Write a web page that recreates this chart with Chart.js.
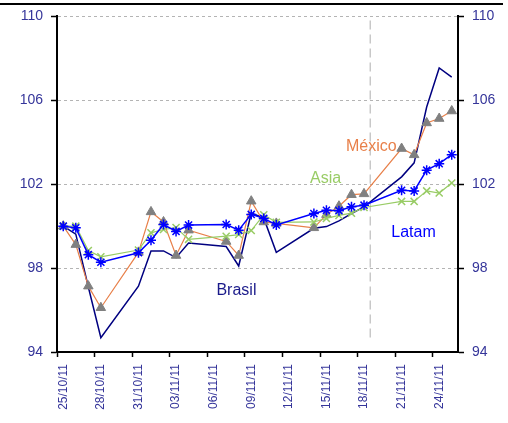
<!DOCTYPE html>
<html>
<head>
<meta charset="utf-8">
<script src="https://cdn.jsdelivr.net/npm/chart.js@4/dist/chart.umd.min.js"></script>
<style>
  html, body { margin: 0; padding: 0; background: #ffffff; }
  #wrap { width: 508px; height: 423px; }
</style>
</head>
<body>
<div id="wrap"><canvas id="c" width="508" height="423"></canvas></div>
<script>
// Trading days (dd/mm/yyyy)
const dates = [
  '25/10/2011', '26/10/2011', '27/10/2011', '28/10/2011',
  '31/10/2011', '01/11/2011', '02/11/2011', '03/11/2011', '04/11/2011',
  '07/11/2011', '08/11/2011', '09/11/2011', '10/11/2011', '11/11/2011',
  '14/11/2011', '15/11/2011', '16/11/2011', '17/11/2011', '18/11/2011',
  '21/11/2011', '22/11/2011', '23/11/2011', '24/11/2011', '25/11/2011'
];

// Index values (base 100 = 25/10/11)
const latam = [100.0, 99.92, 98.64, 98.28, 98.73, 99.33, 100.08, 99.75, 100.05,
  100.08, 99.81, 100.56, 100.37, 100.06, 100.6, 100.76, 100.74, 100.92, 101.0,
  101.71, 101.68, 102.67, 102.98, 103.41];
const asia = [100.0, 100.0, 98.84, 98.54, 98.86, 99.68, 99.84, 99.93, 99.37,
  99.52, 99.6, 99.79, 100.54, 100.18, 100.2, 100.37, 100.51, 100.62, 100.89,
  101.18, 101.18, 101.68, 101.58, 102.06];
const mexico = [100.0, 99.12, 97.14, 96.11, 98.75, 100.68, 100.2, 98.6, 99.81,
  99.27, 98.6, 101.19, 100.2, 100.13, 99.92, 100.55, 100.95, 101.5, 101.54,
  103.7, 103.4, 104.92, 105.13, 105.49];
const brasil = [100.0, 99.62, 97.1, 94.68, 97.14, 98.82, 98.82, 98.5, 99.2,
  99.03, 98.1, 100.62, 100.38, 98.75, 99.9, 99.98, 100.25, 100.6, 100.92,
  102.35, 103.02, 105.68, 107.54, 107.11];

// Axis tick labels (every third calendar day)
const tickLabels = ['25/10/11', '28/10/11', '31/10/11', '03/11/11', '06/11/11',
  '09/11/11', '12/11/11', '15/11/11', '18/11/11', '21/11/11', '24/11/11'];
const yTicks = [94, 98, 102, 106, 110];

// Calendar-day position of each trading day, centred within its day slot
const start = Date.UTC(2011, 9, 25);
function dayPos(s) {
  const [d, m, y] = s.split('/').map(Number);
  return (Date.UTC(y, m - 1, d) - start) / 86400000 + 0.5;
}
const xs = dates.map(dayPos);
const toPoints = vals => vals.map((v, i) => ({ x: xs[i], y: v }));

const axisText = '#35359a';
const font = 'Liberation Sans, Arial, sans-serif';

// Series names written next to their lines
const seriesNotes = [
  { text: 'México', x: 25.08, y: 103.81, color: '#e8804a' },
  { text: 'Asia',   x: 21.43, y: 102.26, color: '#99cc66' },
  { text: 'Latam',  x: 28.45, y: 99.67,  color: '#0000ff' },
  { text: 'Brasil', x: 14.32, y: 96.95,  color: '#1a1a8a' }
];

const notesPlugin = {
  id: 'notes',
  beforeDraw(chart) {
    const ctx = chart.ctx;
    ctx.save();
    ctx.fillStyle = '#ffffff';
    ctx.fillRect(0, 0, chart.width, chart.height);
    ctx.fillStyle = '#000000';
    ctx.fillRect(0, 3, 503, 2);
    ctx.restore();
  },
  afterDatasetsDraw(chart) {
    const ctx = chart.ctx;
    const sx = chart.scales.x, sy = chart.scales.y;
    ctx.save();
    ctx.font = '16px ' + font;
    ctx.textAlign = 'center';
    ctx.textBaseline = 'middle';
    seriesNotes.forEach(n => {
      ctx.fillStyle = n.color;
      ctx.fillText(n.text, sx.getPixelForValue(n.x), sy.getPixelForValue(n.y));
    });
    ctx.restore();
  }
};

const yAxisCommon = {
  type: 'linear', min: 94, max: 110,
  afterBuildTicks: s => { s.ticks = yTicks.map(v => ({ value: v })); },
  ticks: { color: axisText, font: { family: font, size: 14 }, padding: 8 }
};

new Chart(document.getElementById('c'), {
  type: 'line',
  data: {
    datasets: [
      {
        label: 'Latam', data: toPoints(latam),
        borderColor: '#0000ff', borderWidth: 1.5,
        pointStyle: 'star', pointRadius: 5, pointBorderColor: '#0000ff',
        pointBorderWidth: 1.5, pointBackgroundColor: '#0000ff'
      },
      {
        label: 'Asia', data: toPoints(asia),
        borderColor: '#99cc66', borderWidth: 1.2,
        pointStyle: 'crossRot', pointRadius: 5, pointBorderColor: '#99cc66',
        pointBorderWidth: 1.5
      },
      {
        label: 'México', data: toPoints(mexico),
        borderColor: '#e8804a', borderWidth: 1.2,
        pointStyle: 'triangle', pointRadius: 5.5, pointBorderColor: '#808080',
        pointBackgroundColor: '#808080', pointBorderWidth: 1
      },
      {
        label: 'Brasil', data: toPoints(brasil),
        borderColor: '#000080', borderWidth: 1.5, pointRadius: 0
      },
      {
        label: 'corte', data: [{ x: 25, y: 109.8 }, { x: 25, y: 94.45 }],
        borderColor: '#c8c8c8', borderWidth: 1.5, borderDash: [9, 5], pointRadius: 0
      }
    ]
  },
  options: {
    responsive: false,
    devicePixelRatio: 1,
    animation: false,
    layout: { padding: { top: 15, left: 0, right: 0, bottom: 0 } },
    plugins: { legend: { display: false }, tooltip: { enabled: false } },
    elements: { line: { tension: 0, fill: false } },
    scales: {
      x: {
        type: 'linear', min: 0, max: 32,
        afterBuildTicks: s => { s.ticks = tickLabels.map((_, i) => ({ value: i * 3 })); },
        afterFit: s => { s.height = 71; },
        ticks: {
          autoSkip: false, minRotation: 90, maxRotation: 90,
          labelOffset: 6.27, padding: 7,
          color: axisText, font: { family: font, size: 12 },
          callback: (v, i) => tickLabels[i]
        },
        grid: { drawOnChartArea: false, drawTicks: true, tickLength: 5, tickColor: '#000000', tickWidth: 1.5 },
        border: { color: '#000000', width: 2 }
      },
      y: Object.assign({}, yAxisCommon, {
        position: 'left',
        afterFit: s => { s.width = 57; },
        grid: { color: '#b4b4b4', lineWidth: 1, tickColor: '#000000', tickLength: 6, tickWidth: 1.5 },
        border: { color: '#000000', width: 2, dash: [3, 3] }
      }),
      y2: Object.assign({}, yAxisCommon, {
        position: 'right',
        afterFit: s => { s.width = 50; },
        grid: { drawOnChartArea: false, tickColor: '#000000', tickLength: 6, tickWidth: 1.5 },
        border: { color: '#000000', width: 2 }
      })
    }
  },
  plugins: [notesPlugin]
});
</script>
</body>
</html>
